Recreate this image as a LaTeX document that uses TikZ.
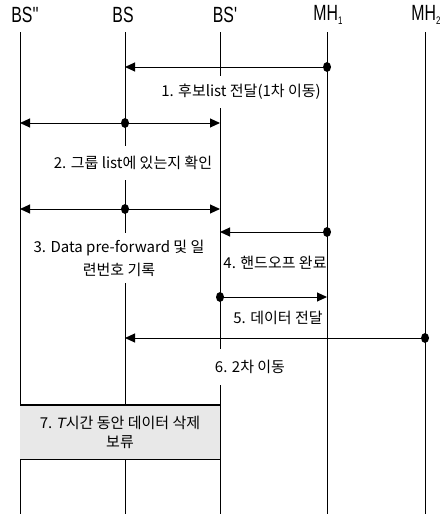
\documentclass[tikz,border=0pt]{standalone}
\usepackage{fontspec}
\setmainfont{Noto Sans CJK KR}
\newfontfamily\headfont[FakeStretch=0.72]{Liberation Sans}
\newfontfamily\lblfont{Noto Sans CJK KR}
\newfontfamily\tfont{Liberation Sans}
\usetikzlibrary{arrows.meta,shapes.geometric}
\begin{document}
\begin{tikzpicture}[x=1pt,y=-1pt,
  life/.style={line width=0.8pt},
  msg/.style={line width=1pt,-{Triangle[length=10pt,width=9pt]}},
  head/.style={font=\headfont\fontsize{22}{22}\selectfont, inner sep=0pt},
  lbl/.style={font=\lblfont\fontsize{15}{17}\selectfont, fill=white, inner xsep=1pt, align=center},
  lblnf/.style={font=\lblfont\fontsize{15}{17}\selectfont, inner sep=1pt, align=center},
  dot/.style={ellipse, fill=black, inner sep=0pt, minimum width=8pt, minimum height=10pt},
  boxseven/.style={fill=black!9, inner sep=0pt, minimum width=199.2pt, minimum height=54pt,
    font=\lblfont\fontsize{15}{19}\selectfont, align=center}]
\useasboundingbox (0,0) rectangle (443,514);
% heads
\node[head] (hA) at (25,15) {BS''};
\node[head] (hB) at (123,15) {BS};
\node[head] (hC) at (225,15) {BS'};
\node[head] (hD) at (328,15) {MH\raisebox{-4pt}{\fontsize{11}{11}\selectfont 1}};
\node[head] (hE) at (426,15) {MH\raisebox{-4pt}{\fontsize{11}{11}\selectfont 2}};
% lifeline ends
\foreach \n/\x in {A/20,B/125,C/220,D/327,E/425}{
  \coordinate (t\n) at (\x,32);
  \coordinate (b\n) at (\x,514);
}
\foreach \n in {A,B,C,D,E}{ \draw[life] (t\n) -- (b\n); }
% message 1
\node[dot] (d1) at (327,67) {};
\coordinate (e1) at (125,67);
\draw[msg] (d1.center) -- (e1);
\node[lbl, inner ysep=8pt] (l1) at (241,92) {1. 후보list 전달(1차 이동)};
% message 2
\node[dot] (d2) at (125,123) {};
\coordinate (e2a) at (20,123);
\coordinate (e2b) at (220,123);
\draw[msg] (d2.center) -- (e2a);
\draw[msg] (d2.center) -- (e2b);
\node[lbl, inner ysep=10pt] (l2) at (133,163) {2. 그룹 list에 있는지 확인};
% message 3
\node[dot] (d3) at (125,209) {};
\coordinate (e3a) at (20,209);
\coordinate (e3b) at (220,209);
\draw[msg] (d3.center) -- (e3a);
\draw[msg] (d3.center) -- (e3b);
\node[lbl, inner ysep=7pt, font=\lblfont\fontsize{15}{23}\selectfont] (l3) at (119,258) {3. Data pre-forward 및 일\\련번호 기록};
% message 4
\node[dot] (d4) at (327,232) {};
\coordinate (e4) at (220,232);
\draw[msg] (d4.center) -- (e4);
\node[lblnf] (l4) at (275,263) {4. 핸드오프 완료};
% message 5
\node[dot] (d5) at (220,297) {};
\coordinate (e5) at (327,297);
\draw[msg] (d5.center) -- (e5);
\node[lblnf] (l5) at (278,318) {5. 데이터 전달};
% message 6
\node[dot] (d6) at (425,338) {};
\coordinate (e6) at (125,338);
\draw[msg] (d6.center) -- (e6);
\node[lbl, inner ysep=11pt] (l6) at (250,367) {6. 2차 이동};
% box 7
\node[boxseven] (b7) at (120,432) {7. {\tfont\itshape T}시간 동안 데이터 삭제\\보류};
\draw[line width=1.4pt] (b7.north west) -- (b7.north east);
\draw[line width=1.4pt] (b7.south west) -- (b7.south east);
\end{tikzpicture}
\end{document}
